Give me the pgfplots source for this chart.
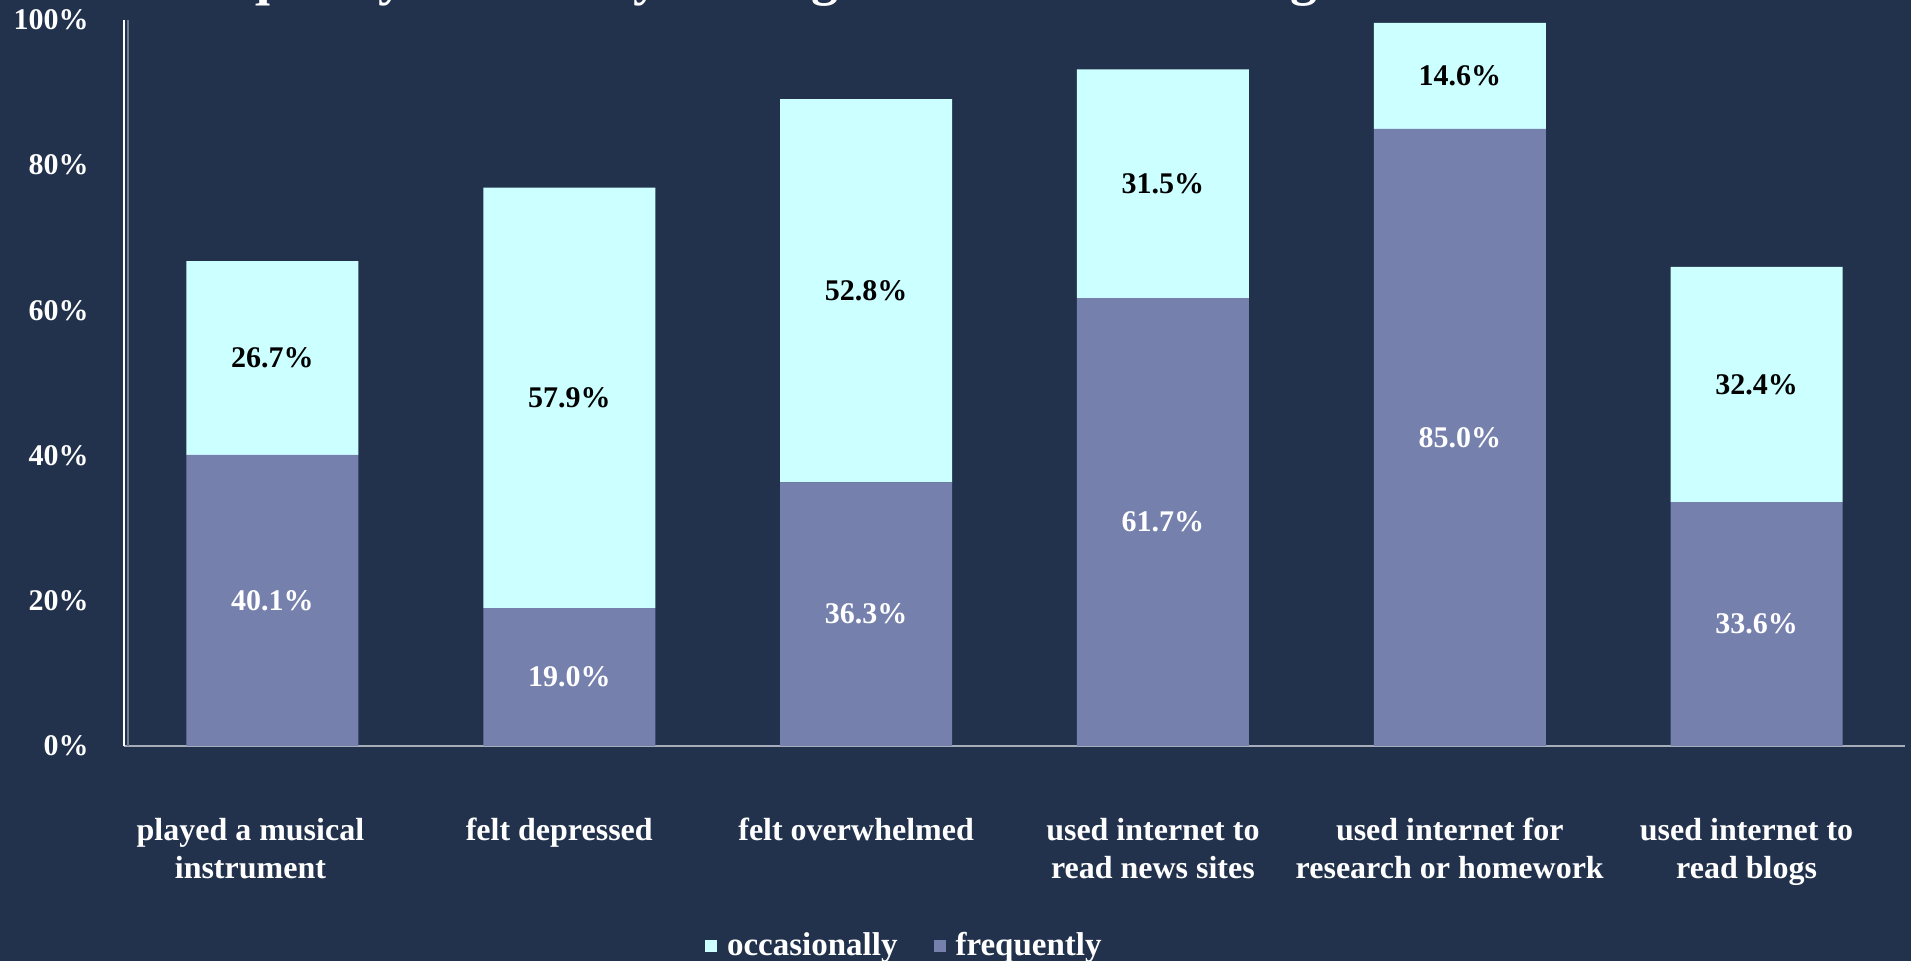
\documentclass[border=0pt]{standalone}
\usepackage{pgfplots}
\usepackage{pgfplotstable}
\pgfplotsset{compat=1.18}
\usepackage{fontspec}
\setmainfont{Liberation Serif}
\definecolor{bg}{RGB}{34,50,77}
\definecolor{freq}{RGB}{117,128,173}
\definecolor{occ}{RGB}{204,255,255}
\definecolor{axisgray}{RGB}{166,173,186}
\pgfplotstableread{
x freq occ
0 40.1 26.7
1 19.0 57.9
2 36.3 52.8
3 61.7 31.5
4 85.0 14.6
5 33.6 32.4
}\data
\begin{document}
\begin{tikzpicture}
\fill[bg] (0,0) rectangle (955.5pt,480.5pt);
\node[anchor=base west, text=white, font=\fontsize{27}{30}\selectfont\bfseries, inner sep=0pt] at (80pt,483pt) {Frequency of Activity During the Last Year of High School};
\begin{axis}[
  at={(62pt,107.5pt)}, anchor=south west,
  scale only axis, width=890.5pt, height=363pt,
  ybar stacked, bar width=86pt,
  xmin=-0.5, xmax=5.5, ymin=0, ymax=100,
  enlargelimits=false,
  xtick={0,...,5},
  xticklabels={{\hspace*{-12pt}played a musical\\\hspace*{-12pt}instrument},{felt depressed},{felt overwhelmed},{used internet to\\read news sites},{used internet for\\research or homework},{used internet to\\read blogs}},
  ytick={0,20,...,100},
  yticklabels={0\%,20\%,40\%,60\%,80\%,100\%},
  axis x line*=bottom, axis y line*=left,
  x axis line style={-, axisgray, line width=1pt},
  y axis line style={-, white, line width=0.6pt},
  major tick length=0pt, tick style={draw=none},
  ticklabel style={font=\fontsize{15}{19}\selectfont\bfseries, text=white},
  yticklabel style={anchor=east, inner sep=0pt, xshift=-17.5pt},
  xticklabel style={font=\fontsize{16}{19}\selectfont\bfseries, anchor=north, inner sep=0pt, align=center, yshift=-36pt, xshift=-5pt},
  /pgf/number format/assume math mode=true,
  nodes near coords={\pgfmathprintnumber[fixed,fixed zerofill,precision=1]{\pgfplotspointmeta}\%},
  point meta=explicit,
  legend columns=2,
  reverse legend,
  legend style={draw=none, fill=none, at={(0.326,-0.275)}, anchor=west, inner sep=0pt,
    font=\fontsize{16.5}{20}\selectfont\bfseries, text=white,
    /tikz/every even column/.append style={column sep=16pt}},
  legend image code/.code={\fill[#1] (0pt,-3pt) rectangle (6pt,3pt); \path (9pt,0pt);},
]
\addplot[fill=freq, draw=none,
  every node near coord/.append style={anchor=center, text=white, font=\fontsize{15}{18}\selectfont\bfseries, inner sep=0pt}]
  table[x=x, y=freq, meta=freq] {\data};
\addlegendentry{frequently}
\addplot[fill=occ, draw=none,
  every node near coord/.append style={anchor=center, text=black, font=\fontsize{15}{18}\selectfont\bfseries, inner sep=0pt}]
  table[x=x, y=occ, meta=occ] {\data};
\addlegendentry{occasionally}
\draw[axisgray!60!bg, line width=0.6pt] ([xshift=2pt]rel axis cs:0,0) -- ([xshift=2pt]rel axis cs:0,1);
\end{axis}
\pgfresetboundingbox
\useasboundingbox (0,0) rectangle (955.5pt,480.5pt);
\end{tikzpicture}
\end{document}
